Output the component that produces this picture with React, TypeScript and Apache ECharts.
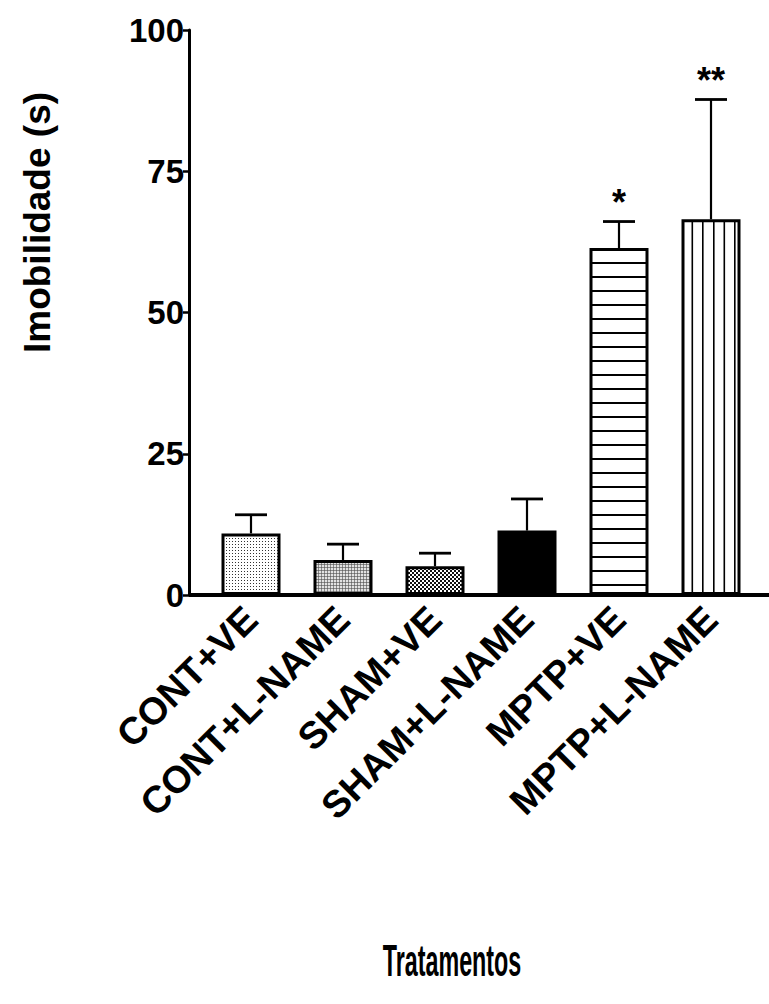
import React, { useEffect, useRef } from "react";
import * as echarts from "echarts";

const categories = ["CONT+VE", "CONT+L-NAME", "SHAM+VE", "SHAM+L-NAME", "MPTP+VE", "MPTP+L-NAME"];
const means = [10.9, 6.2, 5.1, 11.4, 61.4, 66.5];
const errors = [3.3, 2.8, 2.3, 5.6, 4.7, 21.2];
const marks = ["", "", "", "", "*", "**"];
const yMin = 0;
const yMax = 100;
const yStep = 25;
const yAxisTitle = "Imobilidade (s)";
const xAxisTitle = "Tratamentos";

const FONT = '"Liberation Sans", Arial, Helvetica, sans-serif';

function tile(w: number, h: number, draw: (ctx: CanvasRenderingContext2D) => void, bg = "#ffffff") {
  const c = document.createElement("canvas");
  c.width = w;
  c.height = h;
  const ctx = c.getContext("2d") as CanvasRenderingContext2D;
  ctx.fillStyle = bg;
  ctx.fillRect(0, 0, w, h);
  draw(ctx);
  return { image: c.toDataURL(), repeat: "repeat", imageWidth: w, imageHeight: h };
}

function makeFills(): any[] {
  const dots = tile(3, 3, (ctx) => {
    ctx.fillStyle = "#333";
    ctx.fillRect(1, 1, 1, 1);
  });
  const grid = tile(3, 3, (ctx) => {
    ctx.fillStyle = "#8a8a8a";
    ctx.fillRect(0, 0, 3, 1);
    ctx.fillRect(0, 0, 1, 3);
    ctx.fillStyle = "#666";
    ctx.fillRect(0, 0, 1, 1);
  }, "#e2e2e2");
  const checker = tile(4, 4, (ctx) => {
    ctx.fillStyle = "#111";
    ctx.fillRect(0, 0, 2, 2);
    ctx.fillRect(2, 2, 2, 2);
  });
  const hlines = tile(4, 14, (ctx) => {
    ctx.fillStyle = "#000";
    ctx.fillRect(0, 10, 4, 2);
  });
  const vlines = tile(32, 4, (ctx) => {
    ctx.fillStyle = "#000";
    ctx.fillRect(9, 0, 1.6, 4);
    ctx.fillRect(19.5, 0, 1.6, 4);
    ctx.fillRect(30, 0, 1.6, 4);
  });
  return [dots, grid, checker, "#000000", hlines, vlines];
}

export default function App() {
  const ref = useRef<HTMLDivElement>(null);
  useEffect(() => {
    if (!ref.current) return;
    const chart = echarts.init(ref.current, null, { renderer: "svg" });
    const fills = makeFills();
    const option: any = {
      animation: false,
      backgroundColor: "#ffffff",
      grid: { left: 205, right: 12, top: 30, bottom: 409, containLabel: false },
      xAxis: {
        type: "category",
        data: categories,
        axisLine: { show: false },
        axisTick: { show: false },
        axisLabel: {
          interval: 0,
          rotate: 45,
          margin: 18,
          color: "#000",
          fontFamily: FONT,
          fontWeight: "bold",
          fontSize: 38,
        },
      },
      yAxis: {
        type: "value",
        min: yMin,
        max: yMax,
        interval: yStep,
        offset: 16,
        name: yAxisTitle,
        nameLocation: "middle",
        nameGap: 133,
        nameTextStyle: {
          color: "#000",
          fontFamily: FONT,
          fontWeight: "bold",
          fontSize: 37,
          padding: [0, 0, 0, 180],
        },
        axisLine: { show: true, lineStyle: { color: "#000", width: 3 } },
        axisTick: { show: true, length: 6, lineStyle: { color: "#000", width: 2.5 } },
        axisLabel: { margin: 5, color: "#000", fontFamily: FONT, fontWeight: "bold", fontSize: 33 },
        splitLine: { show: false },
      },
      graphic: [
        { type: "rect", left: 189, top: 593, shape: { width: 580, height: 4 }, style: { fill: "#000" }, z: 10 },
        {
          type: "text",
          x: 452,
          y: 960,
          scaleX: 0.53,
          originX: 0,
          style: {
            text: xAxisTitle,
            fill: "#000",
            font: `bold 44px ${FONT}`,
            align: "center",
            verticalAlign: "middle",
          },
        },
      ],
      series: [
        {
          type: "bar",
          data: means.map((v, i) => ({ value: v, itemStyle: { color: fills[i] } })),
          barWidth: 59,
          itemStyle: { borderColor: "#000", borderWidth: 3 },
          z: 2,
        },
        {
          type: "custom",
          data: means.map((v, i) => [i, v, errors[i]]),
          encode: { x: 0, y: 1 },
          z: 3,
          renderItem: (params: any, api: any) => {
            const i = api.value(0);
            const m = api.value(1);
            const e = api.value(2);
            const base = api.coord([i, m]);
            const top = api.coord([i, m + e]);
            const cap = 16;
            const children: any[] = [
              { type: "line", shape: { x1: base[0], y1: base[1], x2: top[0], y2: top[1] }, style: { stroke: "#000", lineWidth: 2.2 } },
              { type: "line", shape: { x1: top[0] - cap, y1: top[1], x2: top[0] + cap, y2: top[1] }, style: { stroke: "#000", lineWidth: 2.8 } },
            ];
            const mk = marks[params.dataIndex];
            if (mk) {
              children.push({
                type: "text",
                x: top[0],
                y: top[1] - 19,
                style: { text: mk, fill: "#000", font: `bold 36px ${FONT}`, align: "center", verticalAlign: "middle" },
              });
            }
            return { type: "group", children };
          },
        },
      ],
    };
    chart.setOption(option);
    return () => chart.dispose();
  }, []);
  return <div ref={ref} style={{ position: "fixed", left: 0, top: 0, width: 769, height: 1004 }} />;
}
